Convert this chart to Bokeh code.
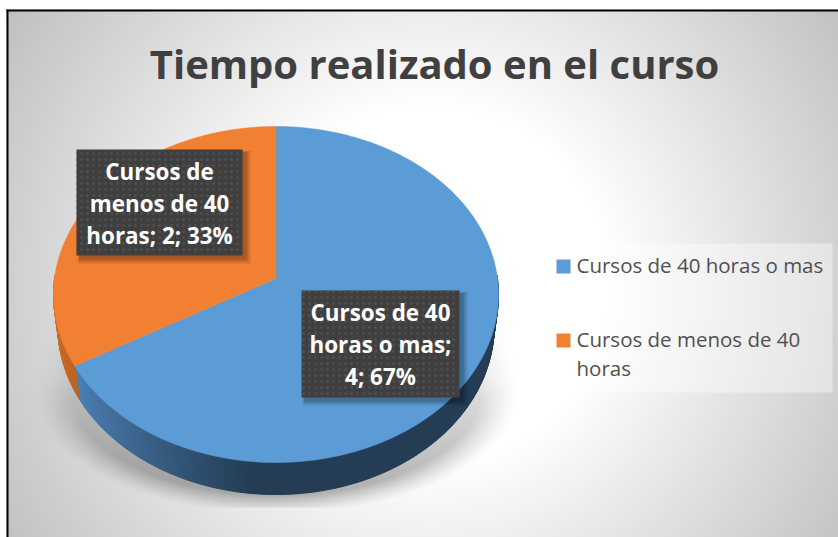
import numpy as np
from bokeh.plotting import figure
from bokeh.models import Range1d
from bokeh.core.properties import value
from bokeh.embed import file_html
from bokeh.resources import INLINE

title_text = "Tiempo realizado en el curso"
categories = ["Cursos de 40 horas o mas", "Cursos de menos de 40 horas"]
counts = [4, 2]
percent_labels = ["67%", "33%"]
data_label_lines = [["Cursos de 40", "horas o mas;", "4; 67%"],
                    ["Cursos de", "menos de 40", "horas; 2; 33%"]]
legend_lines = [["Cursos de 40 horas o mas"], ["Cursos de menos de 40", "horas"]]
top_colors = ["#5b9bd6", "#f28033"]
FONT = value("Open Sans")

W, H = 838, 537
p = figure(width=W, height=H, output_backend="svg", toolbar_location=None,
           x_range=Range1d(0, W), y_range=Range1d(H, 0),
           min_border=0, outline_line_color=None, background_fill_color="white",
           border_fill_color="white")
p.axis.visible = False
p.grid.visible = False

# pie geometry (perspective projection of a disc)
CX, CY, R, PERSP, K = 275.5, 278.0, 221.5, 0.0952, 166.5
DEPTH, SHRINK = 32.0, 0.98

def project(theta):
    """theta: clockwise from the top of the disc."""
    u, v = np.sin(theta), np.cos(theta)
    d = 1 + PERSP * v
    return CX + R * u / d, CY - K * v / d

# background: radial grey plus the floor shadow
xs = np.arange(W) + 0.5
ys = np.arange(H) + 0.5
gx, gy = np.meshgrid(xs, ys)
dist = np.hypot(gx - 430, gy - 285) / 510.0
grey = 255 - 64 * np.clip((dist - 0.35) / 0.65, 0, 1)
half = 224 + np.clip((gy - 290) / 100, 0, 1) * 14
e = np.hypot((gx - CX) / half, np.maximum(gy - 390, 0) / 122.0)
shade = np.clip((1.02 - e) / 0.16, 0, 1) ** 1.3
shade = shade * np.clip((gy - 285) / 110, 0, 1) ** 1.2 * 0.28 * (gy < 507)
shade = shade * (0.4 + 0.6 * np.clip((gy - 380) / 100, 0, 1))
grey = grey * (1 - shade)
img = np.zeros((H, W), dtype=np.uint32)
view = img.view(dtype=np.uint8).reshape((H, W, 4))
g8 = grey.astype(np.uint8)
view[..., 0] = g8
view[..., 1] = g8
view[..., 2] = g8
view[..., 3] = 255
view[gy < 9] = [255, 255, 255, 255]
view[gx < 6] = [255, 255, 255, 255]
p.image_rgba(image=[img], x=0, y=0, dw=W, dh=H)

# border
p.line([7, 7], [9, H], line_color="black", line_width=2)
p.line([6, W], [10, 10], line_color="black", line_width=2)

# angles from the data, clockwise from the top
fractions = np.array(counts, dtype=float) / sum(counts)
edges = np.concatenate([[0.0], np.cumsum(fractions)]) * 2 * np.pi


def mix(a, b, t):
    return tuple(int(round(a[i] + (b[i] - a[i]) * t)) for i in range(3))


def hexc(c):
    return "#%02x%02x%02x" % c

# extruded side wall as narrow strips, coloured along the width of the pie
wall_xs, wall_ys, wall_cols = [], [], []
ths = np.linspace(np.pi * 0.5 - 0.02, np.pi * 1.5 + 0.02, 221)
for a, b in zip(ths[:-1], ths[1:]):
    xa, ya = project(a)
    xb, yb = project(b)
    qx = [xa, xb, CX + (xb - CX) * SHRINK, CX + (xa - CX) * SHRINK]
    qy = [ya, yb, yb + DEPTH, ya + DEPTH]
    mid = 0.5 * (a + b)
    mx = 0.5 * (xa + xb)
    if mid >= edges[1]:
        col = mix((200, 108, 40), (186, 98, 34), np.clip((mx - 52) / 25, 0, 1))
    else:
        t = np.clip((mx - 78) / 170, 0, 1)
        col = mix((74, 126, 178), (36, 61, 85), t ** 0.85)
    wall_xs.append(qx)
    wall_ys.append(qy)
    wall_cols.append(hexc(col))
p.patches(wall_xs, wall_ys, fill_color=wall_cols, line_color=wall_cols, line_width=1)

# top faces
for i, c in enumerate(top_colors):
    t = np.linspace(edges[i], edges[i + 1], 200)
    x, y = project(t)
    p.patch(np.r_[CX, x], np.r_[CY, y], fill_color=c, line_color=c, line_width=0.5)

# data labels
label_boxes = [(301, 459, 290, 397), (76, 242, 149, 255)]
label_size = "22.4px"
for box, lines in zip(label_boxes, data_label_lines):
    l, r, t, b = box
    for k, al in zip([6, 5, 4, 3, 2, 1], [0.03, 0.04, 0.05, 0.06, 0.07, 0.08]):
        p.quad(left=l + 3 - k * 0.3, right=r + 3 + k, top=t + 3 - k * 0.3, bottom=b + 3 + k,
               fill_color="black", fill_alpha=al, line_color=None)
    p.quad(left=l, right=r, top=t, bottom=b, fill_color="#3f3f3f", line_color=None,
           hatch_pattern="dot", hatch_color="#4e4e4e", hatch_scale=6, hatch_weight=1.5)
    yc = 0.5 * (t + b)
    tx = [0.5 * (l + r)] * len(lines)
    ty = [yc + (j - 1) * 32 + 0.5 for j in range(len(lines))]
    p.text(tx, ty, text=lines, text_align="center", text_baseline="middle",
           text_color="white", text_font=FONT, text_font_style="bold", text_font_size=label_size)

# legend
p.quad(left=544, right=832, top=243, bottom=392, fill_color="white", fill_alpha=0.4, line_color=None)
swatch_y = [266, 340]
for lines, yc, c in zip(legend_lines, swatch_y, top_colors):
    p.quad(left=556, right=570, top=yc - 7, bottom=yc + 7, fill_color=c, line_color=None)
    p.text([576] * len(lines), [yc - 1.5 + j * 29 for j in range(len(lines))], text=lines,
           text_align="left", text_baseline="middle", text_color="#505050",
           text_font=FONT, text_font_size="20.5px")

# title
p.text([434], [62.5], text=[title_text], text_align="center", text_baseline="middle",
       text_color="#404040", text_font=FONT, text_font_style="bold", text_font_size="40px")

open("out.html", "w").write(file_html(p, INLINE))
